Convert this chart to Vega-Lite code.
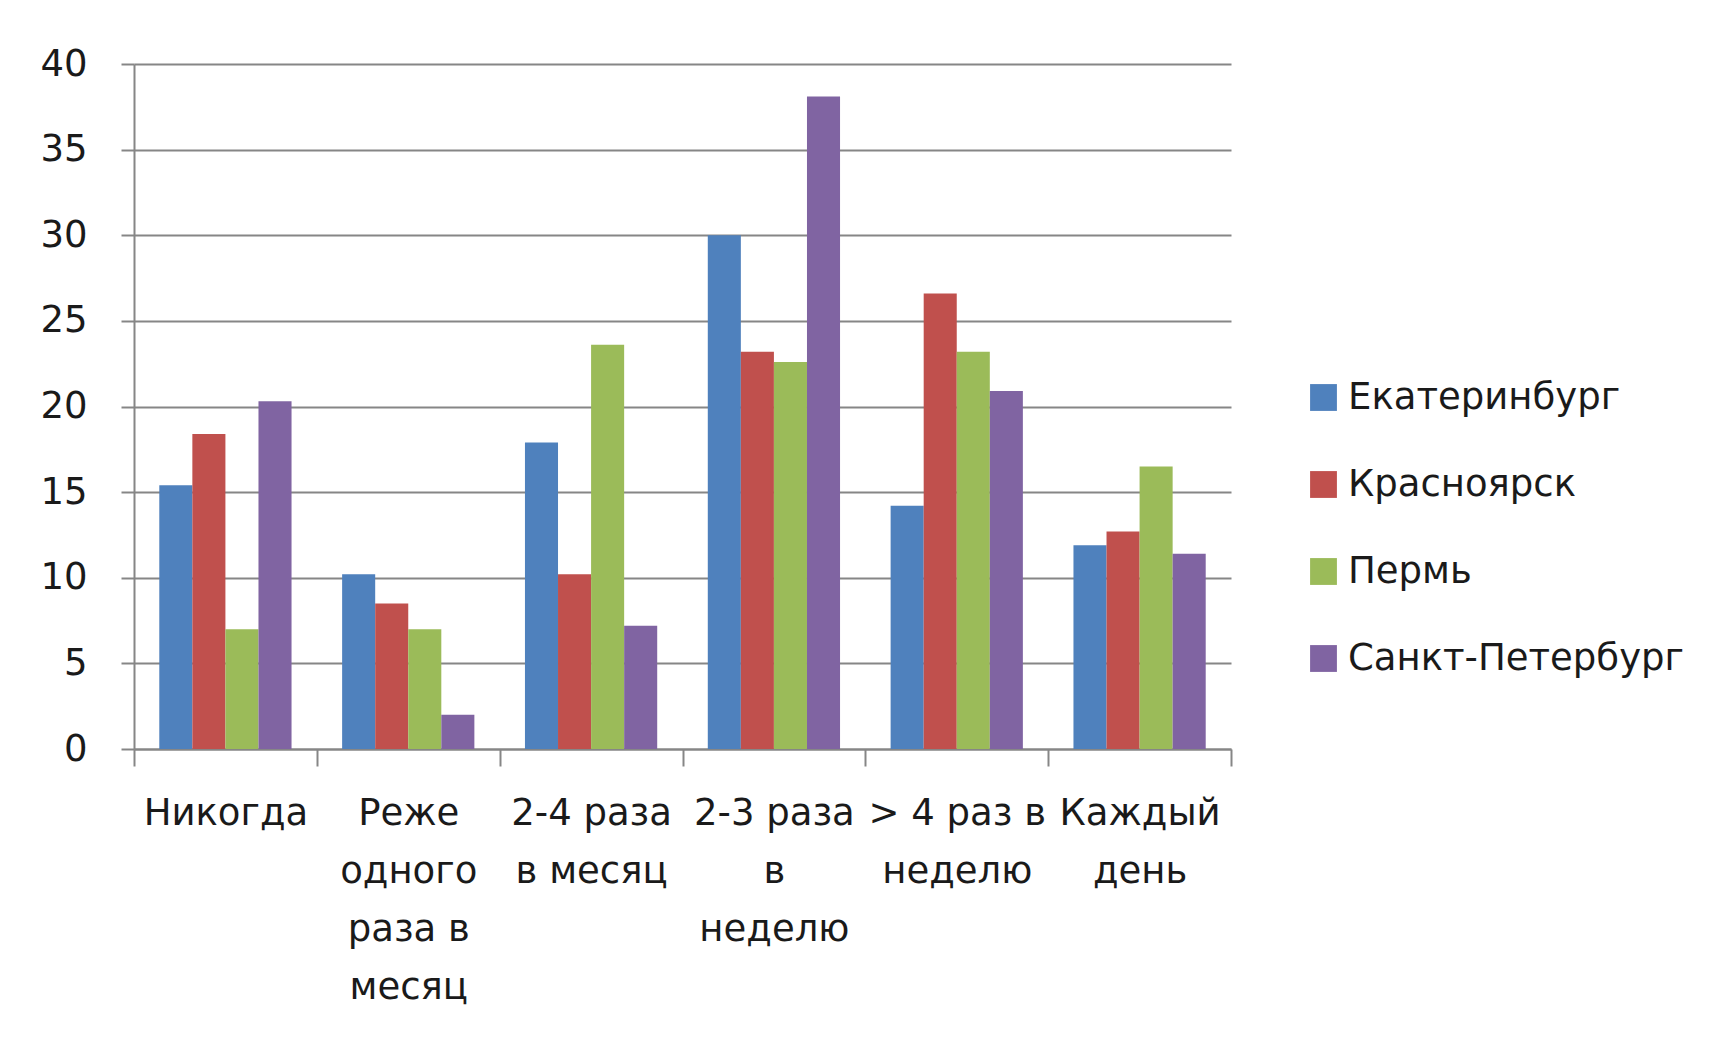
{
  "$schema": "https://vega.github.io/schema/vega-lite/v6.json",
  "width": 1097,
  "height": 685,
  "autosize": {"type": "none"},
  "padding": {"left": 134, "top": 64, "right": 492, "bottom": 292},
  "background": "white",
  "config": {
    "view": {"stroke": null},
    "font": "DejaVu Sans"
  },
  "data": {
    "values": [
      {"freq": "Никогда", "city": "Екатеринбург", "value": 15.4},
      {"freq": "Никогда", "city": "Красноярск", "value": 18.4},
      {"freq": "Никогда", "city": "Пермь", "value": 7.0},
      {"freq": "Никогда", "city": "Санкт-Петербург", "value": 20.3},
      {"freq": "Реже одного раза в месяц", "city": "Екатеринбург", "value": 10.2},
      {"freq": "Реже одного раза в месяц", "city": "Красноярск", "value": 8.5},
      {"freq": "Реже одного раза в месяц", "city": "Пермь", "value": 7.0},
      {"freq": "Реже одного раза в месяц", "city": "Санкт-Петербург", "value": 2.0},
      {"freq": "2-4 раза в месяц", "city": "Екатеринбург", "value": 17.9},
      {"freq": "2-4 раза в месяц", "city": "Красноярск", "value": 10.2},
      {"freq": "2-4 раза в месяц", "city": "Пермь", "value": 23.6},
      {"freq": "2-4 раза в месяц", "city": "Санкт-Петербург", "value": 7.2},
      {"freq": "2-3 раза в неделю", "city": "Екатеринбург", "value": 30.0},
      {"freq": "2-3 раза в неделю", "city": "Красноярск", "value": 23.2},
      {"freq": "2-3 раза в неделю", "city": "Пермь", "value": 22.6},
      {"freq": "2-3 раза в неделю", "city": "Санкт-Петербург", "value": 38.1},
      {"freq": "> 4 раз в неделю", "city": "Екатеринбург", "value": 14.2},
      {"freq": "> 4 раз в неделю", "city": "Красноярск", "value": 26.6},
      {"freq": "> 4 раз в неделю", "city": "Пермь", "value": 23.2},
      {"freq": "> 4 раз в неделю", "city": "Санкт-Петербург", "value": 20.9},
      {"freq": "Каждый день", "city": "Екатеринбург", "value": 11.9},
      {"freq": "Каждый день", "city": "Красноярск", "value": 12.7},
      {"freq": "Каждый день", "city": "Пермь", "value": 16.5},
      {"freq": "Каждый день", "city": "Санкт-Петербург", "value": 11.4}
    ]
  },
  "mark": {"type": "bar"},
  "encoding": {
    "x": {
      "field": "freq",
      "type": "nominal",
      "sort": ["Никогда", "Реже одного раза в месяц", "2-4 раза в месяц", "2-3 раза в неделю", "> 4 раз в неделю", "Каждый день"],
      "scale": {"paddingInner": 0, "paddingOuter": 0},
      "axis": {
        "title": null,
        "labelAngle": 0,
        "tickBand": "extent",
        "tickSize": 17,
        "tickWidth": 2,
        "tickColor": "#868686",
        "domainColor": "#868686",
        "domainWidth": 2,
        "labelFontSize": 37,
        "labelColor": "#1a1a1a",
        "labelPadding": 29,
        "labelLineHeight": 58,
        "labelLimit": 400,
        "labelExpr": "datum.value == 'Реже одного раза в месяц' ? ['Реже', 'одного', 'раза в', 'месяц'] : datum.value == '2-4 раза в месяц' ? ['2-4 раза', 'в месяц'] : datum.value == '2-3 раза в неделю' ? ['2-3 раза', 'в', 'неделю'] : datum.value == '> 4 раз в неделю' ? ['> 4 раз в', 'неделю'] : datum.value == 'Каждый день' ? ['Каждый', 'день'] : datum.value"
      }
    },
    "xOffset": {
      "field": "city",
      "type": "nominal",
      "sort": ["Екатеринбург", "Красноярск", "Пермь", "Санкт-Петербург"],
      "scale": {"paddingInner": 0, "paddingOuter": 0.765}
    },
    "y": {
      "field": "value",
      "type": "quantitative",
      "scale": {"domain": [0, 40]},
      "axis": {
        "title": null,
        "values": [0, 5, 10, 15, 20, 25, 30, 35, 40],
        "grid": true,
        "gridColor": "#868686",
        "gridWidth": 2,
        "tickSize": 13,
        "tickWidth": 2,
        "tickColor": "#868686",
        "domainColor": "#868686",
        "domainWidth": 2,
        "labelFontSize": 37,
        "labelColor": "#1a1a1a",
        "labelPadding": 34
      }
    },
    "color": {
      "field": "city",
      "type": "nominal",
      "scale": {
        "domain": ["Екатеринбург", "Красноярск", "Пермь", "Санкт-Петербург"],
        "range": ["#4F81BD", "#C0504D", "#9BBB59", "#8064A2"]
      },
      "legend": {
        "title": null,
        "orient": "none",
        "legendX": 1171,
        "legendY": 315,
        "symbolType": "square",
        "symbolSize": 720,
        "symbolStrokeWidth": 0,
        "labelFontSize": 37,
        "labelColor": "#1a1a1a",
        "labelOffset": 6,
        "labelLimit": 400,
        "rowPadding": 49
      }
    }
  }
}
